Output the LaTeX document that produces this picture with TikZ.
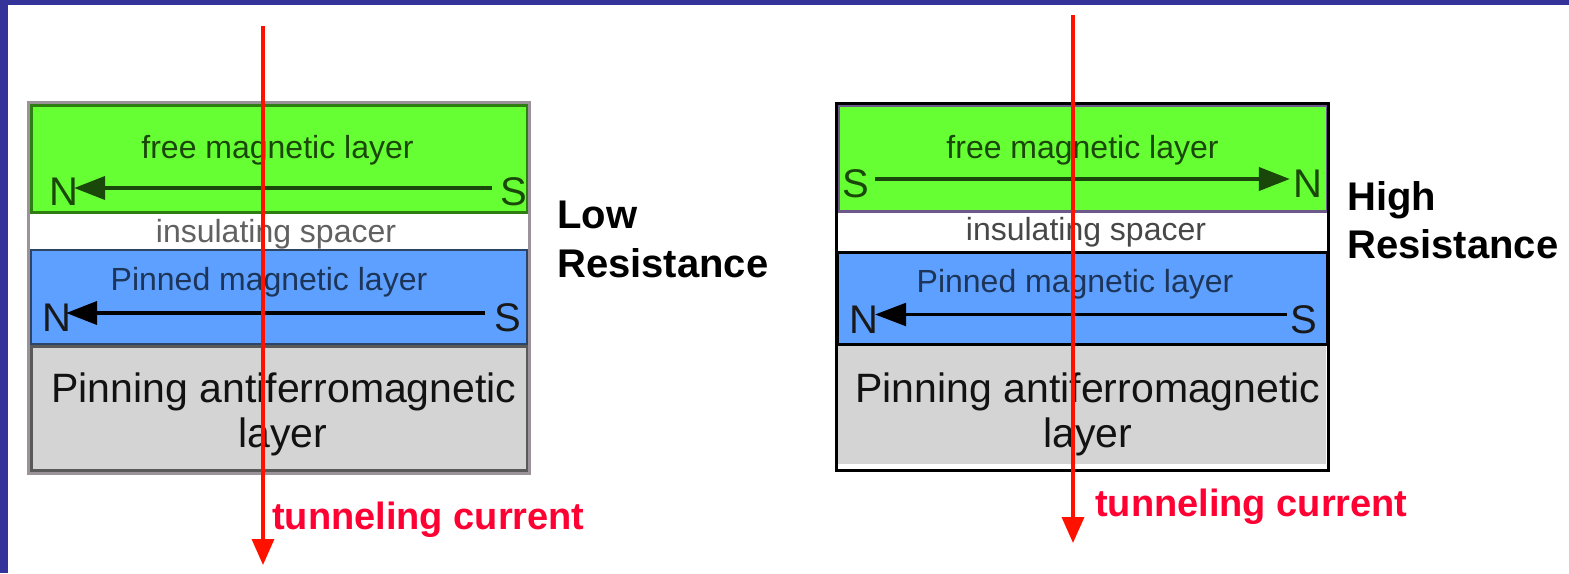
\documentclass[tikz,border=0pt]{standalone}
\usepackage{fontspec}
\setmainfont{Liberation Sans}
\usetikzlibrary{arrows.meta}
\definecolor{navy}{HTML}{333399}
\definecolor{freegreen}{HTML}{66FF33}
\definecolor{greenline}{HTML}{2E7D12}
\definecolor{pinblue}{HTML}{5EA0FF}
\definecolor{blueline}{HTML}{2C4566}
\definecolor{pinggray}{HTML}{D4D4D4}
\definecolor{framegray}{HTML}{9A949A}
\definecolor{purpline}{HTML}{6E5A8A}
\definecolor{greentext}{HTML}{1A470A}
\definecolor{bluetext}{HTML}{1C3558}
\definecolor{curred}{HTML}{FF1100}
\definecolor{labelred}{HTML}{FF0033}
\begin{document}
\begin{tikzpicture}[x=1pt,y=-1pt,
  layer/.style={rectangle, inner sep=0pt, outer sep=0pt, anchor=north west},
  ftxt/.style={inner sep=0pt, anchor=base, font=\fontsize{32}{38}\selectfont},
  pole/.style={inner sep=0pt, anchor=center, font=\fontsize{40}{48}\selectfont},
  pintxt/.style={inner sep=0pt, anchor=base, font=\fontsize{41}{49}\selectfont, text=black!93},
  restxt/.style={inner sep=0pt, anchor=base west, font=\bfseries\fontsize{40}{48}\selectfont},
  curtxt/.style={inner sep=0pt, anchor=base west, text=labelred, font=\bfseries\fontsize{38}{46}\selectfont},
  magarrow/.style={line width=4pt, -{Triangle[length=31pt,width=23pt]}},
  current/.style={draw=curred, line width=3.5pt, -{Triangle[length=26pt,width=22pt]}}
]
\useasboundingbox (0,0) rectangle (1569,573);
\fill[white] (0,0) rectangle (1569,573);
\fill[navy] (0,0) rectangle (1569,5);
\fill[navy] (0,0) rectangle (7.5,573);

% ---------- left stack ----------
\node[layer, fill=freegreen, draw=greenline, line width=3pt, minimum width=496, minimum height=107] (Lfree) at (31,105.5) {};
\node[layer, fill=white, minimum width=497, minimum height=35] (Lspacer) at (30,213.5) {};
\node[layer, fill=pinblue, draw=blueline, line width=2.5pt, minimum width=496, minimum height=94] (Lpinned) at (31,250) {};
\node[layer, fill=pinggray, draw=black!65, line width=3pt, minimum width=496, minimum height=124] (Lpinning) at (31,346.5) {};
\node[layer, draw=framegray, line width=3pt, minimum width=501, minimum height=371] (Lbox) at (28.5,102.5) {};

\node[ftxt, text=greentext] (LfreeT) at (277.5,158) {free magnetic layer};
\node[pole, text=greentext] (LfN) at (63.5,191.5) {N};
\node[pole, text=greentext] (LfS) at (513.5,191.5) {S};
\draw[magarrow, draw=greentext, fill=greentext, shorten <=8pt, shorten >=-4pt]
  ([yshift=3.5pt]LfS.west) -- ([yshift=3.5pt]LfN.east);

\node[ftxt, text=black!62] (LspT) at (276,242) {insulating spacer};

\node[ftxt, text=bluetext] (LpinnedT) at (269,290) {Pinned magnetic layer};
\node[pole, text=black!90] (LpN) at (57,317.5) {N};
\node[pole, text=black!90] (LpS) at (508,317.5) {S};
\draw[magarrow, draw=black, fill=black, shorten <=9.5pt, shorten >=-5.5pt]
  ([yshift=4.5pt]LpS.west) -- ([yshift=4.5pt]LpN.east);

\node[pintxt] (LpinT1) at (284,402) {Pinning antiferromagnetic};
\node[pintxt] (LpinT2) at (283,447) {layer};

\node[restxt] (Llow) at (557,228) {Low};
\node[restxt] (Lres) at (557,277) {Resistance};

\coordinate (LcurA) at (263,26);
\coordinate (LcurB) at (263,565);
\draw[current] (LcurA) -- (LcurB);
\node[curtxt] (LcurT) at (272,529) {tunneling current};

% ---------- right stack ----------
\node[layer, fill=freegreen, draw=purpline, line width=3pt, minimum width=489, minimum height=106] (Rfree) at (838,105) {};
\node[layer, fill=white, minimum width=489, minimum height=39] (Rspacer) at (838,212.5) {};
\node[layer, fill=pinblue, draw=black, line width=2.5pt, minimum width=489, minimum height=92] (Rpinned) at (838,252.5) {};
\node[layer, fill=pinggray, minimum width=488, minimum height=118] (Rpinning) at (838,346) {};
\node[layer, draw=black, line width=3pt, minimum width=491.5, minimum height=367] (Rbox) at (836.5,103.5) {};

\node[ftxt, text=greentext] (RfreeT) at (1082.5,158) {free magnetic layer};
\node[pole, text=greentext] (RfS) at (856,184) {S};
\node[pole, text=greentext] (RfN) at (1308,184) {N};
\draw[magarrow, draw=greentext, fill=greentext, shorten <=5.5pt, shorten >=3.5pt]
  ([yshift=5pt]RfS.east) -- ([yshift=5pt]RfN.west);

\node[ftxt, text=black!72] (RspT) at (1086,240) {insulating spacer};

\node[ftxt, text=bluetext] (RpinnedT) at (1075,292) {Pinned magnetic layer};
\node[pole, text=black!90] (RpN) at (864,319.5) {N};
\node[pole, text=black!90] (RpS) at (1304,319.5) {S};
\draw[magarrow, line width=2.5pt, draw=black, fill=black, shorten <=3.5pt, shorten >=-3.5pt]
  ([yshift=5pt]RpS.west) -- ([yshift=5pt]RpN.east);

\node[pintxt] (RpinT1) at (1088,402) {Pinning antiferromagnetic};
\node[pintxt] (RpinT2) at (1088,447) {layer};

\node[restxt] (Rhigh) at (1347,210) {High};
\node[restxt] (Rres) at (1347,258) {Resistance};

\coordinate (RcurA) at (1073,15);
\coordinate (RcurB) at (1073,543);
\draw[current] (RcurA) -- (RcurB);
\node[curtxt] (RcurT) at (1095,516) {tunneling current};
\end{tikzpicture}
\end{document}
